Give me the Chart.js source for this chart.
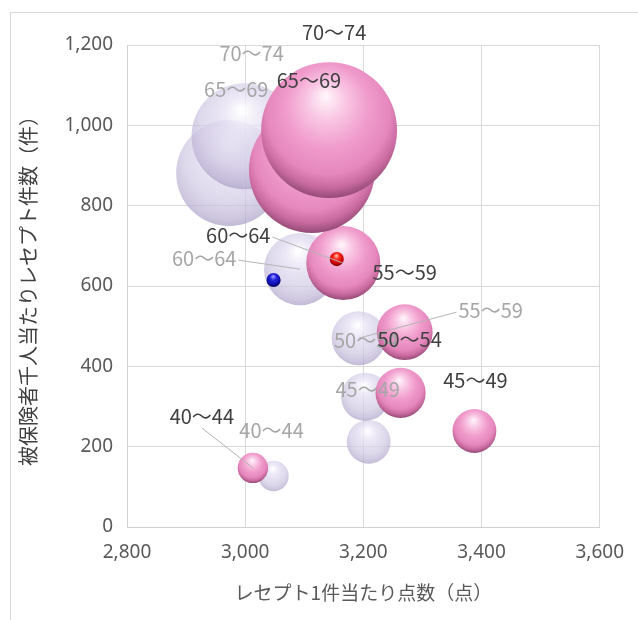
<!DOCTYPE html>
<html lang="ja">
<head>
<meta charset="utf-8">
<script src="https://cdn.jsdelivr.net/npm/chart.js@4.4.1/dist/chart.umd.min.js"></script>
<style>
    html, body { margin: 0; padding: 0; background: #fff; }
    #wrap { width: 638px; height: 620px; position: relative; }
</style>
</head>
<body>
<div id="wrap"><canvas id="bubbleChart"></canvas></div>
<script>
// 年齢階級
const ageGroups = ['40～44', '45～49', '50～54', '55～59', '60～64', '65～69', '70～74'];

// 今年度（ピンク）: レセプト1件当たり点数 / 千人当たり件数 / バブルサイズ
const curScore = [3013, 3388, 3263, 3270, 3166, 3113, 3142];
const curCount = [147, 239, 334, 485, 657, 889, 988];
const curSize  = [23, 48, 63, 78, 137, 397, 462];

// 前年度（ラベンダー）
const prevScore = [3048, 3209, 3203, 3192, 3093, 2973, 2999];
const prevCount = [127, 212, 324, 470, 642, 881, 973];
const prevSize  = [23, 48, 58, 73, 130, 281, 281];

// 平均（青: 前年度, 赤: 今年度）
const avgScore = [3048, 3155];
const avgCount = [615, 667];
const avgSize  = [5, 5];

// 軸の目盛
const xTicks = [2800, 3000, 3200, 3400, 3600];
const yTicks = [0, 200, 400, 600, 800, 1000, 1200];

// ラベル位置（バブル中心からのずれ）と引き出し線
const curLabelOffsets = [[-51, -52], [1, -51], [9, -53], [0, -60], [-105, -28], [-3, -90], [5, -98]];
const curLeader = [true, false, false, false, true, false, false];
const prevLabelOffsets = [[-2, -46], [-1, -52], [1, -56], [132, -28], [-96, -11], [7, -84], [7, -83]];
const prevLeader = [false, false, false, true, true, false, false];

const bubbleRadius = size => Math.sqrt(size * 10);

function toPoints(xs, ys, sizes) {
    return xs.map((x, i) => ({ x: x, y: ys[i], r: bubbleRadius(sizes[i]) }));
}

// 球体風のグラデーション（stopSets はデータ点ごと、1つなら全点共通）
function sphereFill(stopSets) {
    return (c) => {
        const stops = stopSets[Math.min(c.dataIndex || 0, stopSets.length - 1)];
        const chart = c.chart;
        if (c.type !== 'data' || !chart.chartArea) return stops[2][1];
        const x = chart.scales.x.getPixelForValue(c.raw.x);
        const y = chart.scales.y.getPixelForValue(c.raw.y);
        const r = c.raw.r;
        const g = chart.ctx.createRadialGradient(x - r * 0.05, y - r * 0.5, r * 0.03, x, y - r * 0.18, r * 1.2);
        stops.forEach(s => g.addColorStop(s[0], s[1]));
        return g;
    };
}

const pinkStops = [[0, '#fff2f9'], [0.22, '#f9c6e3'], [0.5, '#f09bcc'], [0.75, '#e587bd'], [0.88, '#c86a9f'], [1, '#8e4673']];
const lavenderStops = [[0, 'rgba(255,255,255,0.85)'], [0.3, 'rgba(228,222,242,0.72)'], [0.7, 'rgba(206,198,226,0.7)'], [0.9, 'rgba(186,176,210,0.72)'], [1, 'rgba(170,160,198,0.75)']];
const blueStops = [[0, '#a0a0ff'], [0.35, '#2626e0'], [0.8, '#0a0aa0'], [1, '#00004a']];
const redStops = [[0, '#ffc0b0'], [0.35, '#ff2a1a'], [0.8, '#c00000'], [1, '#5a0000']];

// 外枠
const framePlugin = {
    id: 'frame',
    beforeDraw(chart) {
        const ctx = chart.ctx;
        ctx.save();
        ctx.strokeStyle = '#d9d9d9';
        ctx.lineWidth = 1;
        ctx.beginPath();
        ctx.moveTo(10.5, 620);
        ctx.lineTo(10.5, 12.5);
        ctx.lineTo(638, 12.5);
        ctx.stroke();
        ctx.restore();
    }
};

// データラベル
const labelPlugin = {
    id: 'bubbleLabels',
    afterDatasetsDraw(chart) {
        const ctx = chart.ctx;
        const sets = [
            { index: 2, offsets: prevLabelOffsets, leaders: prevLeader, color: '#a6a6a6' },
            { index: 1, offsets: curLabelOffsets, leaders: curLeader, color: '#404040' }
        ];
        ctx.save();
        ctx.font = '20px "Noto Sans CJK JP", sans-serif';
        ctx.textAlign = 'center';
        ctx.textBaseline = 'middle';
        sets.forEach(set => {
            const meta = chart.getDatasetMeta(set.index);
            meta.data.forEach((el, i) => {
                const lx = el.x + set.offsets[i][0];
                const ly = el.y + set.offsets[i][1];
                const text = ageGroups[i];
                if (set.leaders[i]) {
                    const half = ctx.measureText(text).width / 2;
                    const dx = el.x - lx, dy = el.y - ly;
                    let sx = lx, sy = ly + 12;
                    if (Math.abs(dx) > Math.abs(dy) * 1.5) {
                        sx = lx + Math.sign(dx) * (half + 2);
                        sy = ly + 2;
                    }
                    ctx.strokeStyle = '#b4b4b4';
                    ctx.lineWidth = 1;
                    ctx.beginPath();
                    ctx.moveTo(sx, sy);
                    ctx.lineTo(el.x, el.y);
                    ctx.stroke();
                }
                ctx.fillStyle = set.color;
                ctx.fillText(text, lx, ly);
            });
        });
        ctx.restore();
    }
};

const tickFont = { family: '"Noto Sans", sans-serif', size: 19 };

new Chart(document.getElementById('bubbleChart').getContext('2d'), {
    type: 'bubble',
    data: {
        datasets: [
            {
                label: '平均',
                data: toPoints(avgScore, avgCount, avgSize),
                backgroundColor: sphereFill([blueStops, redStops]),
                borderWidth: 0,
                order: 0,
                clip: false
            },
            {
                label: '今年度',
                data: toPoints(curScore, curCount, curSize),
                backgroundColor: sphereFill([pinkStops]),
                borderWidth: 0,
                order: 1,
                clip: false
            },
            {
                label: '前年度',
                data: toPoints(prevScore, prevCount, prevSize),
                backgroundColor: sphereFill([lavenderStops]),
                borderWidth: 0,
                order: 2,
                clip: false
            }
        ]
    },
    options: {
        responsive: true,
        maintainAspectRatio: false,
        animation: false,
        events: [],
        layout: {
            autoPadding: false,
            padding: { left: 0, top: 45, right: 36, bottom: 0 }
        },
        plugins: {
            legend: { display: false },
            tooltip: { enabled: false }
        },
        scales: {
            x: {
                min: xTicks[0],
                max: xTicks[xTicks.length - 1],
                afterBuildTicks: s => { s.ticks = xTicks.map(v => ({ value: v })); },
                afterFit: s => { s.height = 93; },
                grid: { color: '#d9d9d9', drawTicks: false },
                border: { color: '#d0d0d0' },
                ticks: {
                    padding: 14,
                    color: '#595959',
                    font: tickFont,
                    callback: v => v.toLocaleString('en-US')
                },
                title: {
                    display: true,
                    text: 'レセプト1件当たり点数（点）',
                    color: '#595959',
                    font: { family: '"Noto Sans CJK JP", sans-serif', size: 19 },
                    padding: { top: 0, bottom: 16 }
                }
            },
            y: {
                min: yTicks[0],
                max: yTicks[yTicks.length - 1],
                afterBuildTicks: s => { s.ticks = yTicks.map(v => ({ value: v })); },
                afterFit: s => { s.width = 127; },
                grid: { color: '#d9d9d9', drawTicks: false },
                border: { color: '#d0d0d0' },
                ticks: {
                    padding: 14,
                    color: '#595959',
                    font: tickFont,
                    callback: v => v.toLocaleString('en-US')
                },
                title: {
                    display: true,
                    text: '被保険者千人当たりレセプト件数（件）',
                    color: '#404040',
                    font: { family: '"Noto Sans CJK JP", sans-serif', size: 20 },
                    padding: { top: 16, bottom: 0 }
                }
            }
        }
    },
    plugins: [framePlugin, labelPlugin]
});
</script>
</body>
</html>
